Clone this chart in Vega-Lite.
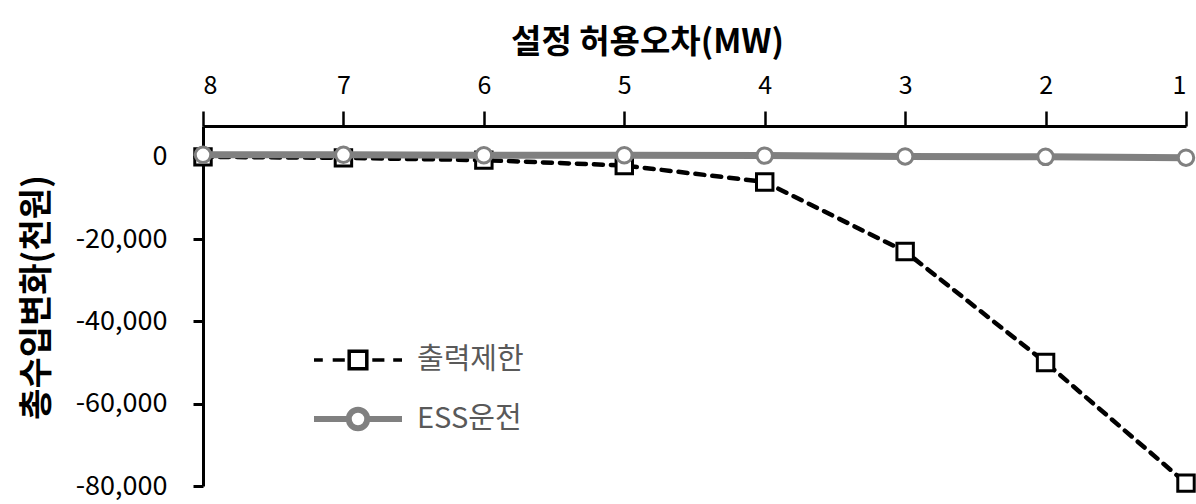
{
  "$schema": "https://vega.github.io/schema/vega-lite/v6.json",
  "width": 983,
  "height": 360,
  "autosize": {"type": "none"},
  "padding": {"left": 203, "top": 126, "right": 10, "bottom": 18},
  "background": "white",
  "config": {
    "view": {"stroke": null},
    "font": "Noto Sans CJK KR"
  },
  "data": {
    "values": [
      {"mw": 8, "series": "출력제한", "value": 0},
      {"mw": 7, "series": "출력제한", "value": -250},
      {"mw": 6, "series": "출력제한", "value": -800},
      {"mw": 5, "series": "출력제한", "value": -2100},
      {"mw": 4, "series": "출력제한", "value": -6100},
      {"mw": 3, "series": "출력제한", "value": -23000},
      {"mw": 2, "series": "출력제한", "value": -50000},
      {"mw": 1, "series": "출력제한", "value": -79300},
      {"mw": 8, "series": "ESS운전", "value": 500},
      {"mw": 7, "series": "ESS운전", "value": 500},
      {"mw": 6, "series": "ESS운전", "value": 400},
      {"mw": 5, "series": "ESS운전", "value": 400},
      {"mw": 4, "series": "ESS운전", "value": 300},
      {"mw": 3, "series": "ESS운전", "value": 100},
      {"mw": 2, "series": "ESS운전", "value": 0},
      {"mw": 1, "series": "ESS운전", "value": -200}
    ]
  },
  "encoding": {
    "x": {
      "field": "mw", "type": "quantitative",
      "scale": {"domain": [1, 8], "reverse": true, "nice": false, "zero": false},
      "axis": {
        "orient": "top", "values": [1, 2, 3, 4, 5, 6, 7, 8], "format": "d",
        "title": "설정 허용오차(MW)", "titleFontSize": 33, "titleFontWeight": "bold",
        "titleColor": "black", "titleX": 444, "titleY": -84, "titleBaseline": "middle",
        "titleFont": "Noto Sans CJK KR",
        "labelFontSize": 25, "labelColor": "black", "labelPadding": 13,
        "labelFont": "Noto Sans CJK KR",
        "tickSize": 15, "tickWidth": 2.5, "tickColor": "black",
        "domainColor": "black", "domainWidth": 3, "grid": false
      }
    },
    "y": {
      "field": "value", "type": "quantitative",
      "scale": {"domain": [-80000, 7500], "nice": false},
      "axis": {
        "values": [-80000, -60000, -40000, -20000, 0],
        "labelExpr": "datum.value < 0 ? '-' + format(-datum.value, ',') : format(datum.value, ',')",
        "title": "총수입변화(천원)", "titleFontSize": 34, "titleFontWeight": "bold",
        "titleColor": "black", "titleX": -166, "titleY": 171, "titleAngle": -90,
        "titleBaseline": "middle", "titleAlign": "center", "titleFont": "Noto Sans CJK KR",
        "labelFontSize": 27, "labelColor": "black", "labelPadding": 26,
        "labelFont": "Noto Sans CJK KR",
        "tickSize": 10, "tickWidth": 3, "tickColor": "black",
        "domainColor": "black", "domainWidth": 3, "grid": false
      }
    }
  },
  "layer": [
    {
      "transform": [{"filter": "datum.series === '출력제한'"}],
      "mark": {"type": "line", "color": "black", "strokeWidth": 4.5, "strokeDash": [9, 8], "strokeCap": "round"}
    },
    {
      "transform": [{"filter": "datum.series === '출력제한'"}],
      "mark": {"type": "point", "shape": "square", "size": 270, "filled": true, "fill": "white", "stroke": "black", "strokeWidth": 3, "opacity": 1}
    },
    {
      "transform": [{"filter": "datum.series === 'ESS운전'"}],
      "mark": {"type": "line", "color": "#808080", "strokeWidth": 7}
    },
    {
      "transform": [{"filter": "datum.series === 'ESS운전'"}],
      "mark": {"type": "point", "shape": "circle", "size": 240, "filled": true, "fill": "white", "stroke": "#808080", "strokeWidth": 3, "opacity": 1}
    },
    {
      "transform": [{"filter": "false"}],
      "mark": {"type": "point", "filled": true, "fill": "white", "opacity": 1},
      "encoding": {
        "stroke": {
          "field": "series", "type": "nominal",
          "scale": {"domain": ["출력제한", "ESS운전"], "range": ["black", "#808080"]},
          "legend": {
            "title": null, "orient": "none", "legendX": 130, "legendY": 210,
            "padding": 0, "symbolSize": 1936, "rowPadding": 18,
            "labelFontSize": 29, "labelColor": "#595959", "labelOffset": 34,
            "labelFont": "Noto Sans CJK KR"
          }
        },
        "strokeWidth": {
          "field": "series", "type": "nominal",
          "scale": {"domain": ["출력제한", "ESS운전"], "range": [3.5, 6]},
          "legend": {
            "title": null, "orient": "none", "legendX": 130, "legendY": 210,
            "padding": 0, "symbolSize": 1936, "rowPadding": 18,
            "labelFontSize": 29, "labelColor": "#595959", "labelOffset": 34,
            "labelFont": "Noto Sans CJK KR"
          }
        },
        "shape": {
          "field": "series", "type": "nominal",
          "scale": {
            "domain": ["출력제한", "ESS운전"],
            "range": [
              "M-2,0H-1.6M-1.15,0H-0.6M-0.4,-0.4H0.4V0.4H-0.4ZM0.65,0H1.2M1.6,0H2",
              "M-2,0H-0.42M0.42,0H2M-0.42,0A0.42,0.42 0 1,1 0.42,0A0.42,0.42 0 1,1 -0.42,0Z"
            ]
          },
          "legend": {
            "title": null, "orient": "none", "legendX": 130, "legendY": 210,
            "padding": 0, "symbolSize": 1936, "rowPadding": 18,
            "labelFontSize": 29, "labelColor": "#595959", "labelOffset": 34,
            "labelFont": "Noto Sans CJK KR"
          }
        }
      }
    }
  ]
}
